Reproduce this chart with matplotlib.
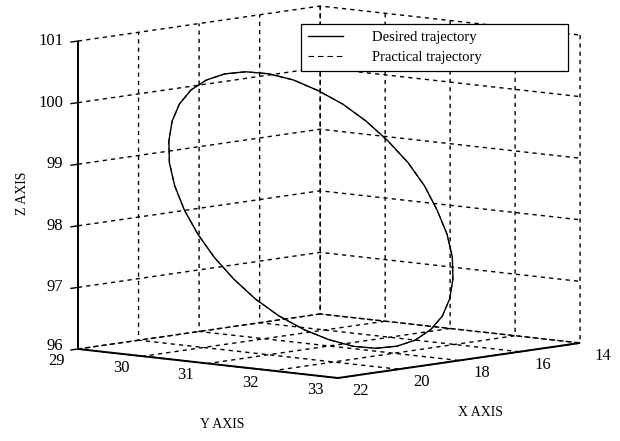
import numpy as np
import matplotlib
matplotlib.use("Agg")
import matplotlib.pyplot as plt
from matplotlib.lines import Line2D

# ---------------- data ----------------
x_ticks = [14, 16, 18, 20, 22]
y_ticks = [29, 30, 31, 32, 33]
z_ticks = [96, 97, 98, 99, 100, 101]

desired_x = [19.13, 18.72, 18.31, 17.90, 17.52, 17.17, 16.87, 16.61, 16.42, 16.30,
             16.24, 16.25, 16.34, 16.50, 16.71, 16.99, 17.32, 17.68, 18.07, 18.48,
             18.89, 19.30, 19.68, 20.03, 20.33, 20.59, 20.78, 20.91, 20.96, 20.95,
             20.86, 20.71, 20.49, 20.21, 19.88, 19.52, 19.13]
desired_y = [32.25, 32.38, 32.47, 32.52, 32.52, 32.47, 32.38, 32.25, 32.08, 31.87,
             31.65, 31.40, 31.13, 30.87, 30.61, 30.36, 30.13, 29.92, 29.75, 29.62,
             29.53, 29.48, 29.48, 29.53, 29.62, 29.75, 29.92, 30.13, 30.36, 30.61,
             30.87, 31.13, 31.39, 31.64, 31.87, 32.08, 32.25]
desired_z = [96.19, 96.21, 96.29, 96.44, 96.63, 96.88, 97.17, 97.49, 97.83, 98.19,
             98.55, 98.90, 99.23, 99.53, 99.79, 100.00, 100.17, 100.27, 100.31, 100.29,
             100.21, 100.07, 99.87, 99.62, 99.33, 99.01, 98.67, 98.31, 97.95, 97.60,
             97.27, 96.97, 96.71, 96.50, 96.34, 96.23, 96.19]
practical_x = list(desired_x)
practical_y = list(desired_y)
practical_z = list(desired_z)

series_labels = ["Desired trajectory", "Practical trajectory"]

# ---------------- style ----------------
plt.rcParams["font.family"] = ["Liberation Serif", "DejaVu Serif"]
plt.rcParams["grid.color"] = "black"
plt.rcParams["grid.linestyle"] = (0, (3.0, 3.0))
plt.rcParams["grid.linewidth"] = 1.0

W, H = 620, 441
fig = plt.figure(figsize=(W / 100, H / 100), dpi=100)
ax = fig.add_axes([0.1, 0.1, 0.6, 0.6 * W / H], projection="3d")
ax.set_proj_type("ortho")
ax.view_init(elev=7.3, azim=41.3)
ax.set_box_aspect((367, 346, 310.5))

xmin, xmax = x_ticks[0], x_ticks[-1]
ymin, ymax = y_ticks[0], y_ticks[-1]
zmin, zmax = z_ticks[0], z_ticks[-1]
ax.set_xlim(xmin, xmax)
ax.set_ylim(ymin, ymax)
ax.set_zlim(zmin, zmax)
ax.set_xticks(x_ticks)
ax.set_yticks(y_ticks)
ax.set_zticks(z_ticks)
ax.set_xticklabels([])
ax.set_yticklabels([])
ax.set_zticklabels([])

for axis in (ax.xaxis, ax.yaxis, ax.zaxis):
    axis.set_pane_color((1, 1, 1, 0))
    axis.line.set_color((0, 0, 0, 0))
    axis._axinfo["tick"]["inward_factor"] = 0.0
    axis._axinfo["tick"]["outward_factor"] = 0.0
ax.tick_params(axis="both", colors=(0, 0, 0, 0))
ax.grid(True)

# solid front box edges (MATLAB style)
edge_kw = dict(color="black", lw=1.4, solid_capstyle="butt")
ax.plot([xmax, xmax], [ymin, ymax], [zmin, zmin], **edge_kw)
ax.plot([xmax, xmin], [ymax, ymax], [zmin, zmin], **edge_kw)
ax.plot([xmax, xmax], [ymin, ymin], [zmin, zmax], **edge_kw)

# trajectories
l1, = ax.plot(desired_x, desired_y, desired_z, color="black", lw=1.0,
              label=series_labels[0])
l2, = ax.plot(practical_x, practical_y, practical_z, color="black", lw=0.8,
              linestyle=(0, (5, 3.5)), label=series_labels[1])

# ---------------- fit the box to the reference layout ----------------
corners = np.array([[xmax, ymin, zmin], [xmax, ymax, zmin],
                    [xmin, ymax, zmin], [xmax, ymin, zmax]], float)
targets = np.array([[78, H - 349], [338, H - 378], [580, H - 343], [78, H - 41]], float)


def project(pts):
    M = ax.get_proj()
    P = np.column_stack([np.asarray(pts, float), np.ones(len(pts))]) @ M.T
    xy = P[:, :2] / P[:, 3:4]
    return ax.transData.transform(xy)


for _ in range(4):
    fig.canvas.draw()
    pos = ax.get_position()
    x0, y0, w = pos.x0 * W, pos.y0 * H, pos.width * W
    q = (project(corners) - [x0, y0]) / w
    A = np.zeros((8, 3))
    bvec = np.zeros(8)
    A[0::2, 0] = 1
    A[0::2, 2] = q[:, 0]
    bvec[0::2] = targets[:, 0]
    A[1::2, 1] = 1
    A[1::2, 2] = q[:, 1]
    bvec[1::2] = targets[:, 1]
    Ox, Oy, S = np.linalg.lstsq(A, bvec, rcond=None)[0]
    ax.set_position([Ox / W, Oy / H, S / W, S / H])

fig.canvas.draw()

# ---------------- tick labels & tick marks ----------------
tick_fs = 12
zt = project([[xmax, ymin, z] for z in z_ticks])
for z, (px, py) in zip(z_ticks, zt):
    dy = 3 if z == zmin else 0
    fig.text((px - 15) / W, (py + dy) / H, str(z), ha="right", va="center",
             fontsize=tick_fs)
    fig.add_artist(Line2D([(px - 7) / W, px / W], [(py - 1) / H, py / H],
                          transform=fig.transFigure, color="black", lw=1.0))

yt = project([[xmax, y, zmin] for y in y_ticks])
for y, (px, py) in zip(y_ticks, yt):
    fig.text((px - 22) / W, (py - 12) / H, str(y), ha="center", va="center",
             fontsize=tick_fs)

xt = project([[x, ymax, zmin] for x in x_ticks])
for x, (px, py) in zip(x_ticks, xt):
    fig.text((px + 23) / W, (py - 13) / H, str(x), ha="center", va="center",
             fontsize=tick_fs)

# axis titles
fig.text(22 / W, 1 - 193 / H, "Z AXIS", rotation=90, ha="center", va="center", fontsize=10)
fig.text(222 / W, 1 - 425 / H, "Y AXIS", ha="center", va="center", fontsize=10)
fig.text(480 / W, 1 - 412 / H, "X AXIS", ha="center", va="center", fontsize=10)

# legend
leg = fig.legend([l1, l2], series_labels, loc="upper left",
                 bbox_to_anchor=(301 / W, 1 - 73 / H, 267 / W, 49 / H),
                 bbox_transform=fig.transFigure, mode="expand",
                 fontsize=10.5, frameon=True, fancybox=False, shadow=False,
                 framealpha=1, edgecolor="black", borderpad=0.45,
                 handlelength=2.4, handletextpad=2.0, labelspacing=0.5,
                 borderaxespad=0)
leg.get_frame().set_linewidth(0.9)

fig.savefig("out.png", dpi=100)
